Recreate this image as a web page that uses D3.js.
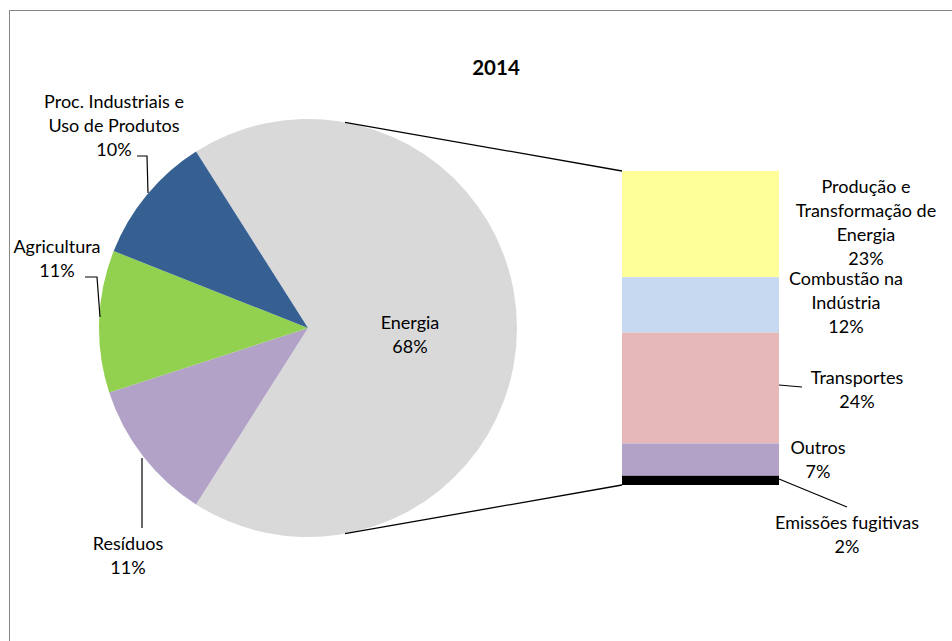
<!DOCTYPE html>
<html>
<head>
<meta charset="utf-8">
<script src="https://cdn.jsdelivr.net/npm/d3@7"></script>
<style>
  html, body { margin: 0; padding: 0; background: #fff; }
  svg { display: block; }
  text { font-family: Lato, "Open Sans", sans-serif; fill: #000; }
</style>
</head>
<body>
<svg id="chart" width="952" height="641"></svg>
<script>
// Emissões por setor, 2014 (%)
const title = "2014";

const pieCategories = ["Energia", "Resíduos", "Agricultura", "Proc. Industriais e Uso de Produtos"];
const pieValues = [68, 11, 11, 10];
const pieColors = ["#d9d9d9", "#b2a2c7", "#92d050", "#376092"];

const barCategories = ["Produção e Transformação de Energia", "Combustão na Indústria", "Transportes", "Outros", "Emissões fugitivas"];
const barValues = [23, 12, 24, 7, 2];
const barColors = ["#ffff99", "#c6d9f1", "#e6b9b8", "#b2a2c7", "#000000"];

const svg = d3.select("#chart");

// chart frame
svg.append("rect")
  .attr("x", 9.5).attr("y", 10.5)
  .attr("width", 1000).attr("height", 700)
  .attr("fill", "none").attr("stroke", "#868686").attr("stroke-width", 1);

svg.append("text")
  .attr("x", 496).attr("y", 75)
  .attr("text-anchor", "middle")
  .attr("font-size", 20.5).attr("font-weight", "bold")
  .text(title);

// ---- pie ----
const cx = 308, cy = 328, R = 209;
const total = d3.sum(pieValues);
// the split slice (Energia) is centred on the right-hand side
const energiaShare = pieValues[0] / total;
const start = Math.PI / 2 - energiaShare * Math.PI;

const pie = d3.pie().sort(null).startAngle(start).endAngle(start + 2 * Math.PI);
const arcs = pie(pieValues);
const arc = d3.arc().innerRadius(0).outerRadius(R);

const gPie = svg.append("g").attr("transform", `translate(${cx},${cy})`);
gPie.selectAll("path").data(arcs).enter().append("path")
  .attr("d", arc)
  .attr("fill", (d, i) => pieColors[i]);

// ---- bar of the split slice ----
const barX = 622, barW = 157;
const y = d3.scaleLinear().domain([0, d3.sum(barValues)]).range([171, 485]);
const cum = d3.cumsum(barValues);
const gBar = svg.append("g");
gBar.selectAll("rect").data(barValues).enter().append("rect")
  .attr("x", barX).attr("width", barW)
  .attr("y", (d, i) => y(cum[i] - d))
  .attr("height", d => y(d) - y(0))
  .attr("fill", (d, i) => barColors[i]);

// connectors between pie and bar
const connAngle = Math.asin(37 / R);
const pTop = [cx + R * Math.sin(connAngle), cy - R * Math.cos(connAngle)];
const pBot = [cx + R * Math.sin(connAngle), cy + R * Math.cos(connAngle)];
svg.append("line")
  .attr("x1", pTop[0]).attr("y1", pTop[1]).attr("x2", barX).attr("y2", y(0))
  .attr("stroke", "#000").attr("stroke-width", 1.3);
svg.append("line")
  .attr("x1", pBot[0]).attr("y1", pBot[1]).attr("x2", barX).attr("y2", y(d3.sum(barValues)))
  .attr("stroke", "#000").attr("stroke-width", 1.3);

// ---- labels ----
const fs = 18, lh = 24;
function label(lines, x, yTop) {
  const t = svg.append("text").attr("text-anchor", "middle").attr("font-size", fs);
  lines.forEach((s, i) => {
    t.append("tspan").attr("x", x).attr("y", yTop + i * lh).text(s);
  });
}
const pct = v => v + "%";

label(["Energia", pct(pieValues[0])], 410, 329);
label(["Resíduos", pct(pieValues[1])], 128, 550);
label(["Agricultura", pct(pieValues[2])], 57, 253);
label(["Proc. Industriais e", "Uso de Produtos", pct(pieValues[3])], 114, 108);

label(["Produção e", "Transformação de", "Energia", pct(barValues[0])], 866, 193);
label(["Combustão na", "Indústria", pct(barValues[1])], 846, 285);
label(["Transportes", pct(barValues[2])], 857, 384);
label(["Outros", pct(barValues[3])], 818, 454);
label(["Emissões fugitivas", pct(barValues[4])], 847, 529);

// leader lines
const leaders = [
  [[137, 156], [147, 156], [148, 193]],
  [[85, 277], [97, 277], [100, 317]],
  [[142, 458], [142, 528]],
  [[779, 385], [802, 387]],
  [[779, 479], [847, 507]]
];
svg.selectAll("path.leader").data(leaders).enter().append("path")
  .attr("class", "leader")
  .attr("d", d3.line())
  .attr("fill", "none").attr("stroke", "#000").attr("stroke-width", 1.2);
</script>
</body>
</html>
